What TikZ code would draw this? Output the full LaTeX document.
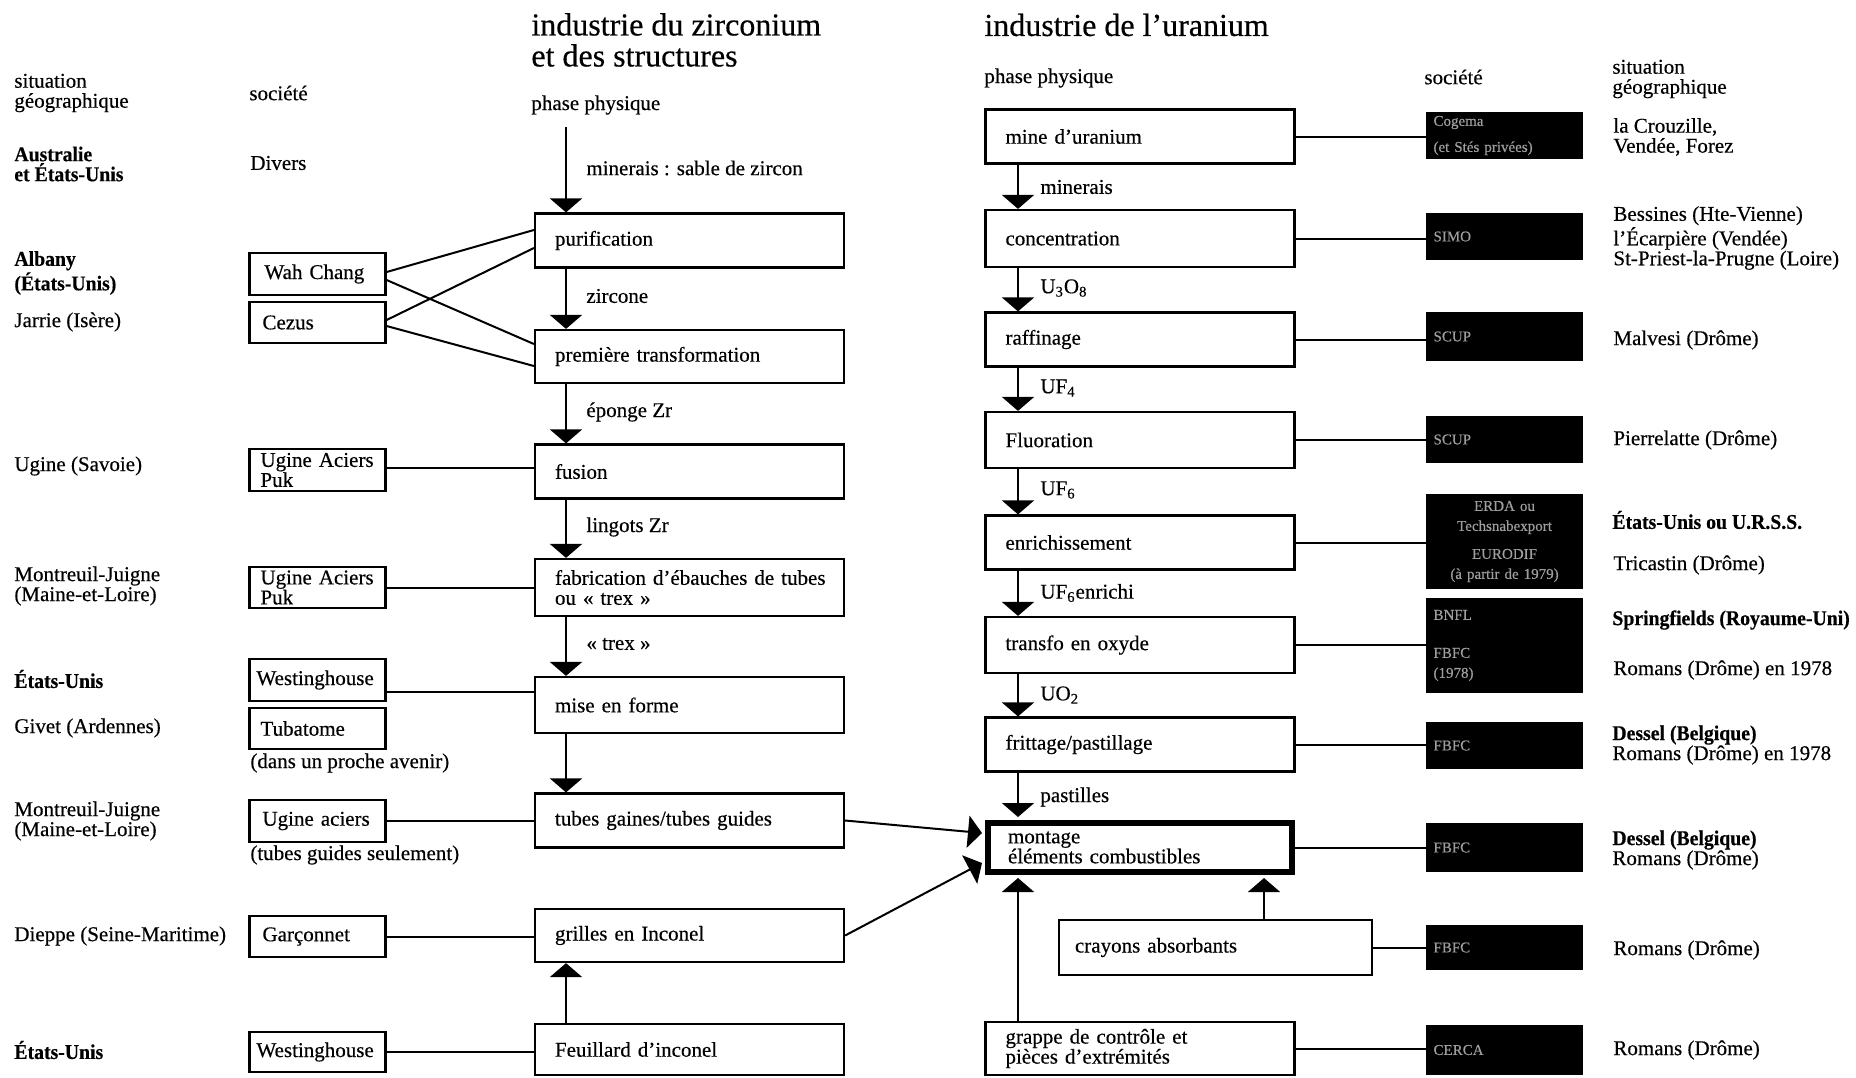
\documentclass[tikz,border=0pt]{standalone}
\usepackage{fontspec}
\setmainfont{Liberation Serif}[FakeBold=0.4, BoldFeatures={FakeStretch=0.94}]
\usetikzlibrary{arrows.meta}
\newcommand\lab{\fontsize{10.5pt}{10pt}\selectfont}
\newcommand\ttl{\fontsize{16pt}{15.5pt}\selectfont}
\newcommand\bfnt{\fontsize{7.5pt}{10pt}\selectfont}
\begin{document}
\begin{tikzpicture}[x=0.5pt,y=-0.5pt,
 every node/.style={font=\lab, inner sep=0pt},
 txt/.style={anchor=west, align=left},
 zbox/.style={draw, line width=1.1pt, text width=134.5pt, inner xsep=10pt, align=left, minimum height=27pt},
 mbox/.style={draw, line width=3pt, text width=132pt, inner xsep=10pt, align=left, minimum height=24.5pt},
 cbox/.style={draw, line width=1.1pt, text width=63pt, inner xsep=2.5pt, align=left, minimum height=20.5pt},
 bbox/.style={fill=black, text width=71pt, inner xsep=3.75pt, align=left, font=\bfnt, text=white!62!black, minimum height=23.5pt},
 con/.style={line width=1pt},
 arr/.style={line width=1pt, -{Triangle[width=16pt,length=7pt]}},
]
\useasboundingbox (0,0) rectangle (1856,1077);

% ---------- headings ----------
\node[txt, font=\ttl] (t1) at (531,40) {industrie du zirconium\\et des structures};
\node[txt, font=\ttl] (t2) at (984,25) {industrie de l’uranium};
\node[txt] (sg1) at (14,93) {situation\\géographique};
\node[txt] (so1) at (249,93) {société};
\node[txt] (pp1) at (531,105) {phase physique};
\node[txt] (pp2) at (984,78) {phase physique};
\node[txt] (so2) at (1424,77) {société};
\node[txt] (sg2) at (1612,79) {situation\\géographique};

\coordinate (zx) at (566,0);
\coordinate (ux) at (1018,0);
\coordinate (cx) at (1264,0);

% ---------- zirconium column ----------
\node[zbox] (pur)  at (689.5,240.5) {purification};
\node[zbox, minimum height=26.5pt] (prem) at (689.5,356.5) {première transformation};
\node[zbox] (fus)  at (689.5,471.5) {fusion};
\node[zbox, minimum height=28.5pt] (fab)  at (689.5,587.5) {\mbox{fabrication d’ébauches de tubes}\\ou « trex »};
\node[zbox, minimum height=28pt] (mef)  at (689.5,705) {mise en forme};
\node[zbox] (tub)  at (689.5,820.5) {tubes gaines/tubes guides};
\node[zbox, minimum height=26.5pt] (gri)  at (689.5,935.5) {grilles en Inconel};
\node[zbox, minimum height=25.5pt] (feu)  at (689.5,1049.5) {Feuillard d’inconel};

% ---------- companies (zirconium) ----------
\node[cbox, minimum height=21pt] (wc)  at (317.5,274) {\hspace*{5pt}Wah Chang};
\node[cbox] (cz)  at (317.5,322.5) {\hspace*{4pt}Cezus};
\node[cbox, minimum height=21pt] (ug1) at (317.5,470) {\hspace*{3pt}Ugine Aciers\\\hspace*{3pt}Puk};
\node[cbox] (ug2) at (317.5,587.5) {\hspace*{3pt}Ugine Aciers\\\hspace*{3pt}Puk};
\node[cbox, minimum height=21pt] (we1) at (317.5,680) {\hspace*{1pt}Westinghouse};
\node[cbox] (tu)  at (317.5,728.5) {\hspace*{3pt}Tubatome};
\node[cbox, minimum height=21pt] (ua)  at (317.5,821) {\hspace*{4pt}Ugine aciers};
\node[cbox] (ga)  at (317.5,936.5) {\hspace*{4pt}Garçonnet};
\node[cbox, minimum height=20pt] (we2) at (317.5,1052) {\hspace*{1pt}Westinghouse};

% ---------- left geography ----------
\node[txt, font=\lab\bfseries] (g1) at (14,164) {Australie\\et États-Unis};
\node[txt] (dv) at (250,163) {Divers};
\node[txt, font=\lab\bfseries] (g2) at (14,273) {Albany\\(États-Unis)};
\node[txt] (g3) at (14,322) {Jarrie (Isère)};
\node[txt] (g4) at (14,466) {Ugine (Savoie)};
\node[txt] (g5) at (14,586) {Montreuil-Juigne\\(Maine-et-Loire)};
\node[txt, font=\lab\bfseries] (g6) at (14,679) {États-Unis};
\node[txt] (g7) at (14,728) {Givet (Ardennes)};
\node[txt] (n1) at (250,763) {(dans un proche avenir)};
\node[txt] (g8) at (14,821) {Montreuil-Juigne\\(Maine-et-Loire)};
\node[txt] (n2) at (250,855) {(tubes guides seulement)};
\node[txt] (g9) at (14,936) {Dieppe (Seine-Maritime)};
\node[txt, font=\lab\bfseries] (g10) at (14,1050) {États-Unis};

% ---------- zirconium arrows & labels ----------
\draw[arr] (pp1.south -| zx) ++(0,-6pt) -- (pur.north -| zx);
\draw[arr] (pur.south -| zx) -- (prem.north -| zx);
\draw[arr] (prem.south -| zx) -- (fus.north -| zx);
\draw[arr] (fus.south -| zx) -- (fab.north -| zx);
\draw[arr] (fab.south -| zx) -- (mef.north -| zx);
\draw[arr] (mef.south -| zx) -- (tub.north -| zx);
\draw[arr] (feu.north -| zx) -- (gri.south -| zx);
\node[txt] (l1) at (586,168) {minerais : sable de zircon};
\node[txt] (l2) at (586,296) {zircone};
\node[txt] (l3) at (586,412) {éponge Zr};
\node[txt] (l4) at (586,527) {lingots Zr};
\node[txt] (l5) at (586,644) {« trex »};

% ---------- company connectors ----------
\draw[con] ([yshift=1pt]wc.east) -- ([yshift=5.25pt]pur.west);
\draw[con] ([yshift=-3pt]wc.east) -- ([yshift=6.25pt]prem.west);
\draw[con] ([yshift=1.25pt]cz.east) -- ([yshift=-3.75pt]pur.west);
\draw[con] ([yshift=-1.75pt]cz.east) -- ([yshift=-4.75pt]prem.west);
\draw[con] ([yshift=1pt]ug1.east) -- ([yshift=1pt]ug1.east -| fus.west);
\draw[con] (ug2.east) -- (ug2.east -| fab.west);
\draw[con] ([yshift=-6pt]we1.east) -- ([yshift=-6pt]we1.east -| mef.west);
\draw[con] (ua.east) -- (ua.east -| tub.west);
\draw[con] (ga.east) -- (ga.east -| gri.west);
\draw[con] (we2.east) -- (we2.east -| feu.west);

% ---------- uranium column ----------
\node[zbox] (mine) at (1140,136.5) {mine d’uranium};
\node[zbox, minimum height=28.5pt] (conc) at (1140,238.5) {concentration};
\node[zbox] (raf)  at (1140,339.5) {raffinage};
\node[zbox, minimum height=28pt] (flu)  at (1140,440) {Fluoration};
\node[zbox] (enr)  at (1140,542.5) {enrichissement};
\node[zbox, minimum height=28pt] (tra)  at (1140,645) {transfo en oxyde};
\node[zbox] (fri)  at (1140,744.5) {frittage/pastillage};
\node[mbox] (mon)  at (1140,847.5) {montage\\éléments combustibles};
\node[draw, line width=1.1pt, text width=140.5pt, inner xsep=8pt, align=left, minimum height=27.5pt] (cra) at (1215.5,947.5) {crayons absorbants};
\node[zbox, minimum height=26.5pt] (gra)  at (1140,1048.5) {grappe de contrôle et\\pièces d’extrémités};

% ---------- uranium arrows & labels ----------
\draw[arr] (mine.south -| ux) -- (conc.north -| ux);
\draw[arr] (conc.south -| ux) -- (raf.north -| ux);
\draw[arr] (raf.south -| ux) -- (flu.north -| ux);
\draw[arr] (flu.south -| ux) -- (enr.north -| ux);
\draw[arr] (enr.south -| ux) -- (tra.north -| ux);
\draw[arr] (tra.south -| ux) -- (fri.north -| ux);
\draw[arr] (fri.south -| ux) -- ([yshift=1.5pt]mon.north -| ux);
\draw[arr] (gra.north -| ux) -- ([yshift=-1.5pt]mon.south -| ux);
\draw[arr] (cra.north -| cx) -- ([yshift=-1.5pt]mon.south -| cx);
\draw[arr] (tub.east) -- ([xshift=-1.5pt,yshift=7.25pt]mon.west);
\draw[arr] (gri.east) -- ([xshift=-1.5pt,yshift=-7.75pt]mon.west);
\node[txt] (u1) at (1040,187) {minerais};
\node[txt] (u2) at (1040,288) {U\textsubscript{3}O\textsubscript{8}};
\node[txt] (u3) at (1040,388) {UF\textsubscript{4}};
\node[txt] (u4) at (1040,490) {UF\textsubscript{6}};
\node[txt] (u5) at (1040,593) {UF\textsubscript{6}enrichi};
\node[txt] (u6) at (1040,695) {UO\textsubscript{2}};
\node[txt] (u7) at (1040,797) {pastilles};

% ---------- companies (uranium, black boxes) ----------
\node[bbox, font=\fontsize{7.5pt}{13pt}\selectfont] (b1) at (1504.5,135.5) {Cogema\\(et Stés privées)};
\node[bbox] (b2) at (1504.5,236.5) {SIMO};
\node[bbox, minimum height=24.5pt] (b3) at (1504.5,336.5) {SCUP};
\node[bbox] (b4) at (1504.5,439.5) {SCUP};
\node[bbox, minimum height=47.5pt, align=center] (b5) at (1504.5,541.5) {ERDA ou\\Techsnabexport\\[4pt]EURODIF\\(à partir de 1979)};
\node[bbox, minimum height=47.5pt] (b6) at (1504.5,645.5) {BNFL\\[9pt]FBFC\\(1978)};
\node[bbox] (b7) at (1504.5,745.5) {FBFC};
\node[bbox, minimum height=24.5pt] (b8) at (1504.5,847.5) {FBFC};
\node[bbox, minimum height=22.5pt] (b9) at (1504.5,947.5) {FBFC};
\node[bbox, minimum height=25pt] (b10) at (1504.5,1050) {CERCA};

\draw[con] (mine.east) -- (mine.east -| b1.west);
\draw[con] (conc.east) -- (conc.east -| b2.west);
\draw[con] (raf.east) -- (raf.east -| b3.west);
\draw[con] (flu.east) -- (flu.east -| b4.west);
\draw[con] (enr.east) -- (enr.east -| b5.west);
\draw[con] (tra.east) -- (tra.east -| b6.west);
\draw[con] (fri.east) -- (fri.east -| b7.west);
\draw[con] (mon.east) -- (mon.east -| b8.west);
\draw[con] (cra.east) -- (cra.east -| b9.west);
\draw[con] (gra.east) -- (gra.east -| b10.west);

% ---------- right geography ----------
\node[txt] (r1) at (1613,137) {la Crouzille,\\Vendée, Forez};
\node[txt] (r2) at (1613,238) {Bessines (Hte-Vienne)\\l’Écarpière (Vendée)\\St-Priest-la-Prugne (Loire)};
\node[txt] (r3) at (1613,340) {Malvesi (Drôme)};
\node[txt] (r4) at (1613,440) {Pierrelatte (Drôme)};
\node[txt, font=\lab\bfseries] (r5) at (1612,520) {États-Unis ou U.R.S.S.};
\node[txt] (r6) at (1613,565) {Tricastin (Drôme)};
\node[txt, font=\lab\bfseries] (r7) at (1612,620) {Springfields (Royaume-Uni)};
\node[txt] (r8) at (1613,670) {Romans (Drôme) en 1978};
\node[txt] (r9) at (1612,745) {\textbf{Dessel (Belgique)}\\Romans (Drôme) en 1978};
\node[txt] (r10) at (1612,850) {\textbf{Dessel (Belgique)}\\Romans (Drôme)};
\node[txt] (r11) at (1613,950) {Romans (Drôme)};
\node[txt] (r12) at (1613,1050) {Romans (Drôme)};
\end{tikzpicture}
\end{document}
